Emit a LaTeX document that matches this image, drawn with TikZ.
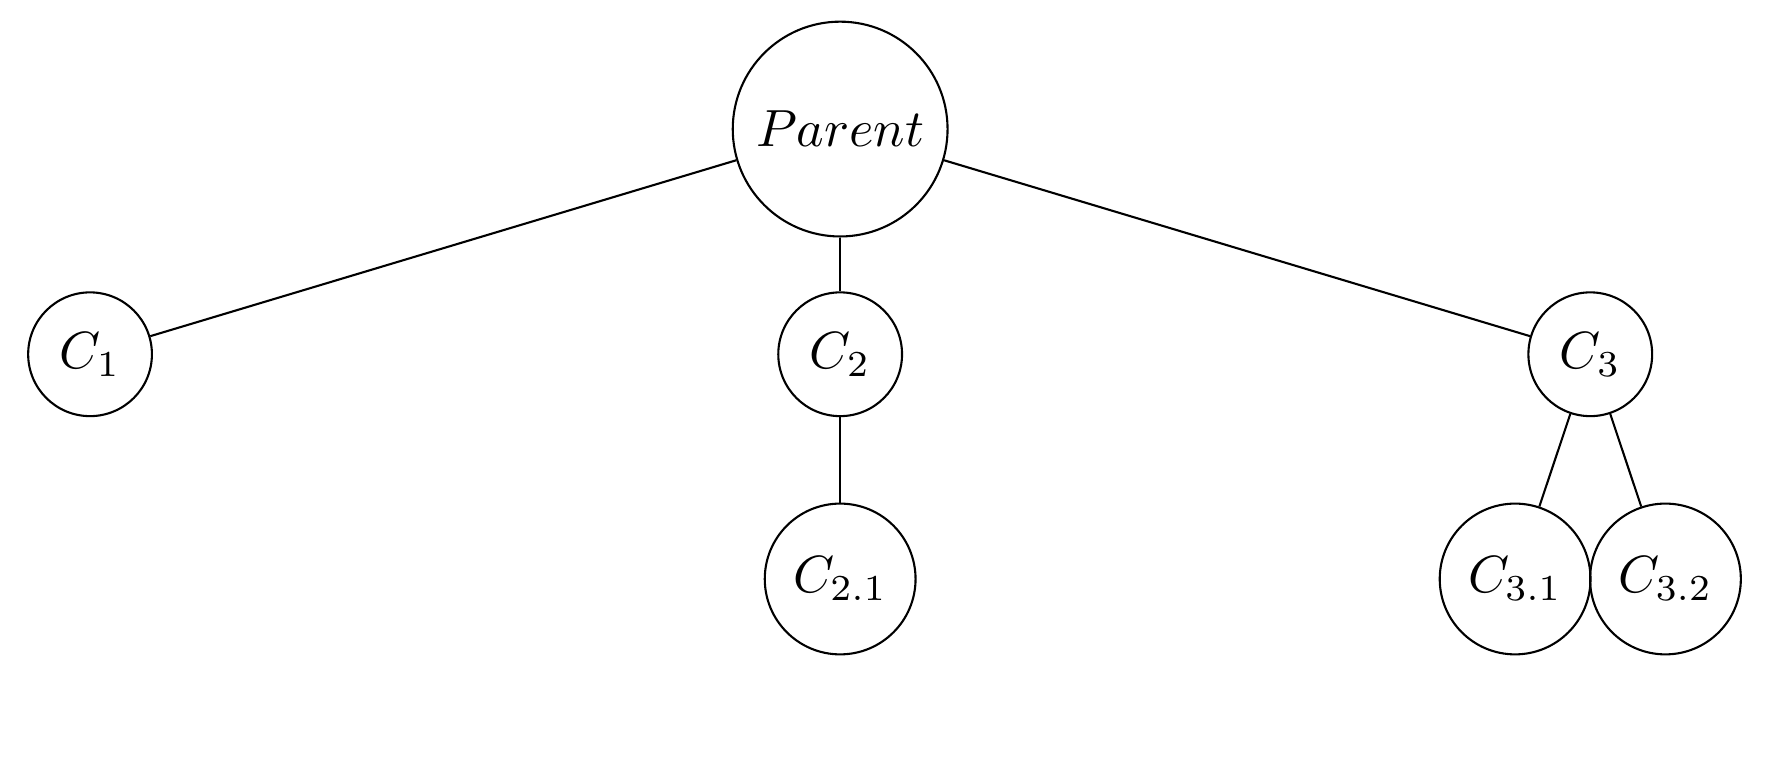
\documentclass[tikz,border=0pt]{standalone}
\usepackage{amsmath}
\usetikzlibrary{positioning}

\begin{document}
\begin{tikzpicture}[nd/.style={draw,circle}]
                                \useasboundingbox (0,0) rectangle (12,-5.107);
                                \node[nd] (p) at (5.645,-0.867) {$Parent$};

                                \node[nd] (c1) at (0.605,-2.38) {$C_1$};
                                \node[nd] (c2) at (5.645,-2.38) {$C_2$};
                                \node[nd] (c3) at (10.685,-2.38) {$C_3$};

                                \node[nd] (c21) at (5.645,-3.89) {$C_{2.1}$};
                                \node[nd] (c31) at (10.18,-3.89) {$C_{3.1}$};
                                \node[nd] (c32) at (11.19,-3.89) {$C_{3.2}$};

                                \draw (p) -- (c1);
                                \draw (p) -- (c2);
                                \draw (p) -- (c3);
                                \draw (c2) -- (c21);
                                \draw (c3) -- (c31);
                                \draw (c3) -- (c32);
                            \end{tikzpicture}
\end{document}
